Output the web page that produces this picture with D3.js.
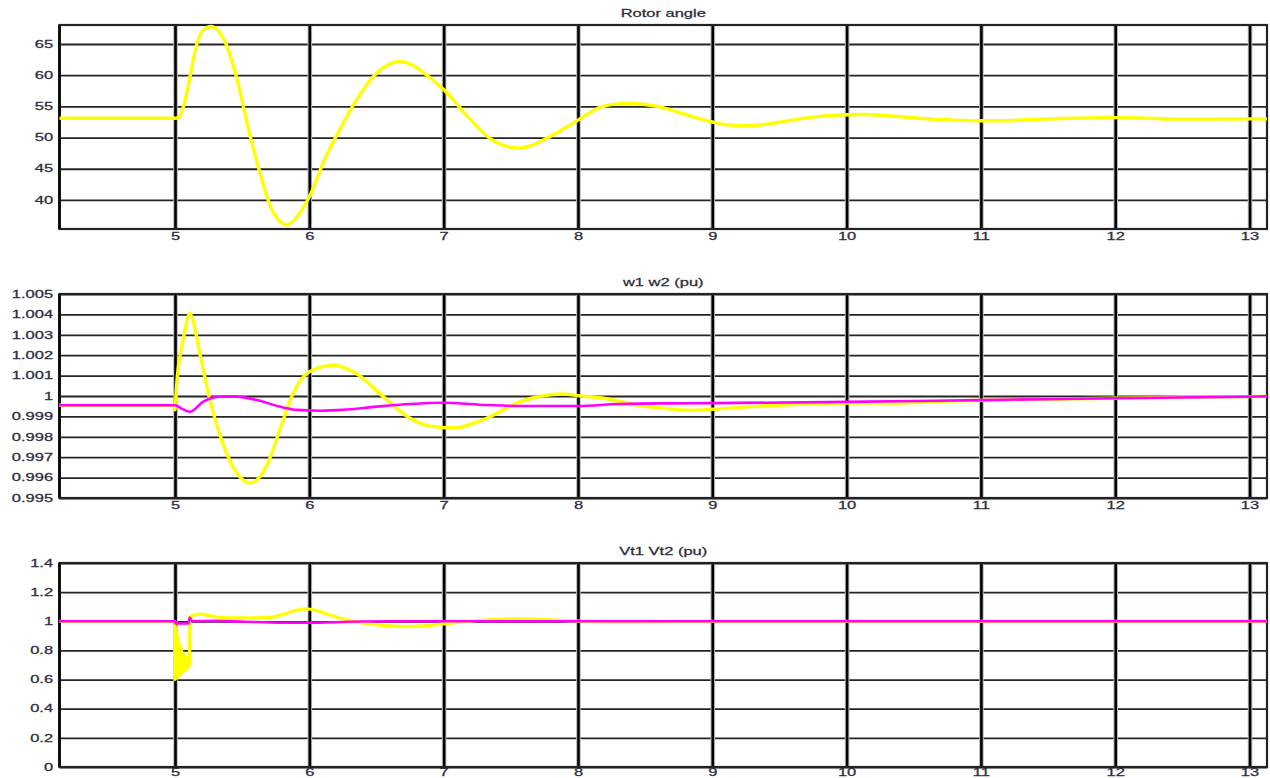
<!DOCTYPE html>
<html>
<head>
<meta charset="utf-8">
<script src="https://cdn.jsdelivr.net/npm/d3@7"></script>
<style>
  body { margin: 0; background: #fff; }
  svg { display: block; }
  .lbl { font-family: "Liberation Sans", Arial, sans-serif; font-size: 10px; fill: #2e2e3e; stroke: #2e2e3e; stroke-width: 0.25px; }
</style>
</head>
<body>
<div id="chart"></div>
<script>
// tick labels
const xTicks = [5, 6, 7, 8, 9, 10, 11, 12, 13];
const rotorTicks = [40, 45, 50, 55, 60, 65];
const speedTicks = [0.995, 0.996, 0.997, 0.998, 0.999, 1, 1.001, 1.002, 1.003, 1.004, 1.005];
const voltTicks = [0, 0.2, 0.4, 0.6, 0.8, 1, 1.2, 1.4];

// Rotor angle (deg)
const rotorT = [4.14, 5.0, 5.03, 5.07, 5.11, 5.16, 5.21, 5.27, 5.33, 5.38, 5.46, 5.56, 5.64, 5.71, 5.77, 5.83,
  5.89, 5.95, 6.0, 6.12, 6.22, 6.35, 6.5, 6.58, 6.67, 6.76, 6.85, 7.0, 7.2, 7.35, 7.45, 7.55, 7.66, 7.77,
  8.0, 8.16, 8.29, 8.38, 8.5, 8.63, 8.8, 9.0, 9.13, 9.27, 9.42, 9.59, 9.8, 10.0, 10.13, 10.3, 10.54, 10.8,
  11.0, 11.15, 11.34, 11.6, 12.0, 12.2, 12.44, 12.7, 13.0, 13.13];
const rotorAngle = [53.1, 53.1, 53.3, 55.5, 59.6, 64.8, 67.2, 67.8, 66.9, 65.0, 59.5, 50.2, 43.8, 39.0, 36.8, 36.0,
  36.8, 38.6, 40.5, 46.8, 51.0, 56.0, 60.3, 61.6, 62.2, 61.7, 60.4, 57.7, 52.9, 49.8, 48.7, 48.3, 48.8, 49.9,
  52.8, 54.8, 55.4, 55.5, 55.3, 54.8, 53.7, 52.5, 52.0, 51.9, 52.2, 52.8, 53.4, 53.65, 53.7, 53.5, 53.1, 52.8,
  52.7, 52.7, 52.85, 53.05, 53.2, 53.15, 52.95, 52.95, 53.0, 53.0];

// speeds w1, w2 (pu)
const w1T = [4.14, 4.99, 5.0, 5.01, 5.06, 5.11, 5.19, 5.26, 5.33, 5.43, 5.56, 5.68, 5.78, 5.88, 6.0, 6.18, 6.35,
  6.55, 6.75, 6.9, 7.07, 7.32, 7.57, 7.89, 8.0, 8.19, 8.44, 8.68, 8.85, 9.0, 9.3, 9.6, 10.0, 10.4, 10.8,
  11.5, 12.0, 12.5, 13.0, 13.13];
const w1 = [0.99955, 0.99955, 0.99932, 1.0004, 1.00273, 1.00403, 1.00192, 0.9998, 0.99818, 0.99655, 0.99574,
  0.99655, 0.99834, 1.00013, 1.00119, 1.00151, 1.0011, 0.99997, 0.99891, 0.99852, 0.99843, 0.99891, 0.99972,
  1.0001, 1.00002, 0.99989, 0.99956, 0.99937, 0.9993, 0.99935, 0.99948, 0.99958, 0.99965, 0.99966, 0.99976,
  0.99984, 0.99989, 0.99994, 0.99997, 0.99998];
const w2T = [4.14, 5.0, 5.05, 5.11, 5.21, 5.33, 5.46, 5.61, 5.78, 5.91, 6.08, 6.25, 6.5, 6.75, 7.0, 7.32, 7.57,
  8.0, 8.31, 8.68, 9.0, 10.0, 11.0, 12.0, 13.0, 13.13];
const w2 = [0.99955, 0.99955, 0.99938, 0.99923, 0.99972, 0.99997, 0.99997, 0.9998, 0.99948, 0.99932, 0.99928,
  0.99932, 0.99948, 0.99961, 0.99967, 0.99956, 0.99951, 0.99951, 0.99961, 0.99964, 0.99965, 0.99971, 0.9998,
  0.99989, 0.99997, 0.99998];

// terminal voltages Vt1, Vt2 (pu)
const vt1T = [4.14, 4.999, 5.0, 5.006, 5.013, 5.02, 5.027, 5.034, 5.041, 5.048, 5.055, 5.062, 5.069, 5.076,
  5.083, 5.09, 5.097, 5.104, 5.108, 5.11, 5.15, 5.19, 5.25, 5.33, 5.46, 5.6, 5.71, 5.81, 5.9, 5.98, 6.05,
  6.13, 6.28, 6.45, 6.6, 6.75, 6.9, 7.0, 7.19, 7.4, 7.57, 7.75, 7.94, 8.31, 8.68, 9.0, 13.13];
const vt1 = [1.0, 1.0, 0.6, 0.96, 0.61, 0.9, 0.62, 0.85, 0.63, 0.81, 0.65, 0.78, 0.66, 0.76,
  0.67, 0.75, 0.68, 0.74, 0.7, 1.03, 1.045, 1.05, 1.04, 1.027, 1.023, 1.024, 1.027, 1.05, 1.075, 1.085, 1.075,
  1.05, 1.01, 0.982, 0.968, 0.964, 0.972, 0.982, 1.0, 1.014, 1.018, 1.012, 1.003, 0.994, 0.998, 1.0, 1.0];
const vt2T = [4.14, 5.0, 5.005, 5.1, 5.11, 5.13, 5.3, 5.6, 5.8, 6.0, 6.3, 6.6, 13.13];
const vt2 = [1.0, 1.0, 0.985, 0.985, 1.025, 1.0, 1.003, 0.995, 0.99, 0.99, 0.997, 1.0, 1.0];

const W = 1270, H = 778;
const stretch = "scale(1.65,1)";

const svg = d3.select("#chart").append("svg")
  .attr("width", W)
  .attr("height", H);

const x = d3.scaleLinear().domain([4.14, 13.13]).range([59.5, 1267]);
const plotW = x.range()[1] - x.range()[0];

const panels = [
  { title: "Rotor angle", top: 25, bottom: 229, dom: [35.34, 68.05], ticks: rotorTicks, labelY: 4,
    series: [{ t: rotorT, v: rotorAngle, color: "#ffff00", w: 3.4 }] },
  { title: "w1 w2 (pu)", top: 294, bottom: 498, dom: [0.995, 1.005], ticks: speedTicks, labelY: 4,
    series: [{ t: w1T, v: w1, color: "#ffff00", w: 3.4 }, { t: w2T, v: w2, color: "#ff00ff", w: 2.6 }] },
  { title: "Vt1 Vt2 (pu)", top: 563, bottom: 767, dom: [0, 1.4], ticks: voltTicks, labelY: 1.5,
    series: [{ t: vt1T, v: vt1, color: "#ffff00", w: 3.2 }, { t: vt2T, v: vt2, color: "#ff00ff", w: 2.6 }] }
];

panels.forEach(function(p) {
  const y = d3.scaleLinear().domain(p.dom).range([p.bottom, p.top]);
  const g = svg.append("g");
  const h = p.bottom - p.top;

  // horizontal grid + y labels
  const gy = g.append("g")
    .attr("transform", `translate(${x.range()[0]},0)`)
    .call(d3.axisLeft(y).tickValues(p.ticks).tickSize(-plotW).tickFormat(d => String(+d.toFixed(3))));
  gy.select(".domain").remove();
  gy.selectAll("line").attr("stroke", "#252525").attr("stroke-width", 1.8);
  gy.selectAll("text")
    .attr("class", "lbl")
    .attr("fill", null)
    .attr("x", -3.9)
    .attr("transform", stretch);

  // vertical grid + x labels
  const gx = g.append("g")
    .attr("transform", `translate(0,${p.bottom})`)
    .call(d3.axisBottom(x).tickValues(xTicks).tickSize(-h).tickFormat(d3.format("d")));
  gx.select(".domain").remove();
  gx.selectAll(".tick").insert("line", "line")
    .attr("y2", -h)
    .attr("stroke", "#b8b8b8")
    .attr("stroke-width", 4.6);
  gx.selectAll(".tick line:last-of-type").attr("stroke", "#000").attr("stroke-width", 2.6);
  gx.selectAll("text")
    .attr("class", "lbl")
    .attr("fill", null)
    .attr("y", p.labelY)
    .attr("transform", stretch);

  // frame
  g.append("rect")
    .attr("x", x.range()[0])
    .attr("y", p.top)
    .attr("width", plotW)
    .attr("height", h)
    .attr("fill", "none")
    .attr("stroke", "#222")
    .attr("stroke-width", 2.2);
  g.append("line")
    .attr("x1", x.range()[0]).attr("x2", x.range()[0])
    .attr("y1", p.top).attr("y2", p.bottom)
    .attr("stroke", "#111").attr("stroke-width", 3);

  // title
  g.append("g")
    .attr("transform", `translate(${(x.range()[0] + x.range()[1]) / 2},${p.top - 8})`)
    .append("text")
    .attr("class", "lbl")
    .attr("text-anchor", "middle")
    .attr("transform", stretch)
    .text(p.title);

  // curves
  const line = d3.line()
    .x(d => x(d[0]))
    .y(d => y(d[1]))
    .curve(d3.curveMonotoneX);

  p.series.forEach(function(s) {
    g.append("path")
      .datum(d3.zip(s.t, s.v))
      .attr("fill", "none")
      .attr("stroke", s.color)
      .attr("stroke-width", s.w)
      .attr("stroke-linejoin", "round")
      .attr("d", line);
  });
});
</script>
</body>
</html>
